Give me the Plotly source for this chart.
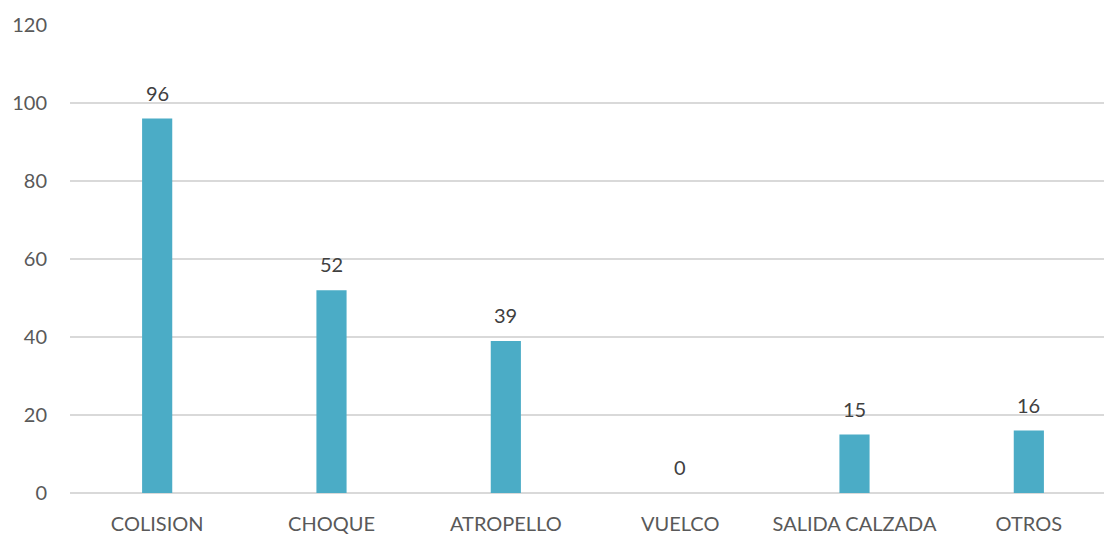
import plotly.graph_objects as go

categories = ["COLISION", "CHOQUE", "ATROPELLO", "VUELCO", "SALIDA CALZADA", "OTROS"]
values = [96, 52, 39, 0, 15, 16]
y_ticks = [0, 20, 40, 60, 80, 100, 120]

bar_color = "#4BACC6"
font_family = "Lato, 'Open Sans', sans-serif"

fig = go.Figure()
fig.add_trace(go.Bar(
    x=categories, y=values,
    marker=dict(color=bar_color, line=dict(width=0)),
    hoverinfo="x+y",
))

for c, v in zip(categories, values):
    fig.add_annotation(
        x=c, y=v, text=str(v), showarrow=False,
        yanchor="bottom", yshift=12,
        font=dict(family=font_family, size=20, color="#404040"),
    )

fig.update_layout(
    width=1112, height=534,
    margin=dict(l=61, r=4, t=14, b=49),
    paper_bgcolor="white", plot_bgcolor="white",
    bargap=0.827,
    showlegend=False,
    font=dict(family=font_family, size=20, color="#595959"),
)
fig.update_yaxes(
    range=[0, 120], tickvals=y_ticks,
    showgrid=True, gridcolor="#d9d9d9", gridwidth=1.5,
    zeroline=True, zerolinecolor="#d9d9d9", zerolinewidth=2,
    showline=False, ticks="", ticklabelstandoff=22,
    tickfont=dict(family=font_family, size=20, color="#595959"),
)
fig.update_xaxes(
    showgrid=False, showline=False, ticks="", ticklabelstandoff=17,
    tickfont=dict(family=font_family, size=20, color="#595959"),
)

fig.write_html("out.html")
